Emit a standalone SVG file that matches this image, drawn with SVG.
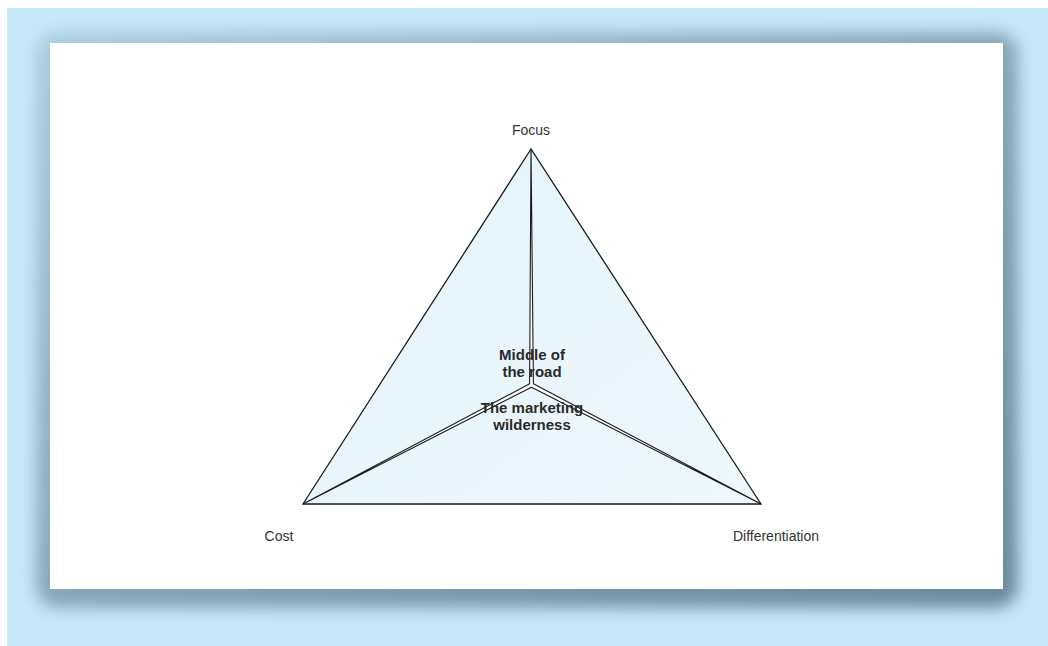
<svg xmlns="http://www.w3.org/2000/svg" width="1048" height="646" viewBox="0 0 1048 646">
<defs>
<style>
.lbl{font-family:"Liberation Sans",sans-serif;font-size:14px;fill:#333;text-anchor:middle}
.mid{font-family:"Liberation Sans",sans-serif;font-size:15px;font-weight:bold;fill:#2a2a2a;text-anchor:middle}
.road{fill:#ffffff;stroke:#1a1a1a;stroke-width:1.1;stroke-linejoin:bevel}
</style>
<linearGradient id="sh" x1="0" y1="0" x2="1" y2="1">
<stop offset="0" stop-color="#a9cddd"/>
<stop offset="0.5" stop-color="#86a6b6"/>
<stop offset="1" stop-color="#6a8898"/>
</linearGradient>
<linearGradient id="tri" x1="0" y1="0" x2="1" y2="1">
<stop offset="0" stop-color="#e3f3fb"/>
<stop offset="1" stop-color="#eef8fd"/>
</linearGradient>
<filter id="blur" x="-10%" y="-10%" width="120%" height="120%">
<feGaussianBlur stdDeviation="8"/>
</filter>
</defs>
<rect x="0" y="0" width="1048" height="646" fill="#ffffff"/>
<rect x="7" y="8" width="1041" height="638" fill="#c7e8f8"/>
<rect x="36" y="32" width="982" height="576" rx="22" fill="url(#sh)" filter="url(#blur)"/>
<rect x="50" y="43" width="953" height="546" fill="#ffffff"/>
<g id="triangle">
<polygon points="531,149 303,504 761,504" fill="url(#tri)" stroke="#1a1a1a" stroke-width="1.3" stroke-linejoin="miter"/>
<line x1="303" y1="504" x2="761" y2="504" stroke="#555" stroke-width="1.6"/>
</g>
<g id="connectors">
<polygon class="road" points="531,149 533.4,383.8 761,504 531.5,387.2 303,504 529.6,383.8"/>
</g>
<g id="focus"><text class="lbl" x="531" y="135">Focus</text></g>
<g id="cost"><text class="lbl" x="279" y="541">Cost</text></g>
<g id="differentiation"><text class="lbl" x="776" y="541">Differentiation</text></g>
<g id="middle"><text class="mid" x="532" y="360">Middle of</text><text class="mid" x="532" y="377">the road</text></g>
<g id="wilderness"><text class="mid" x="532" y="413">The marketing</text><text class="mid" x="532" y="430">wilderness</text></g>
</svg>
